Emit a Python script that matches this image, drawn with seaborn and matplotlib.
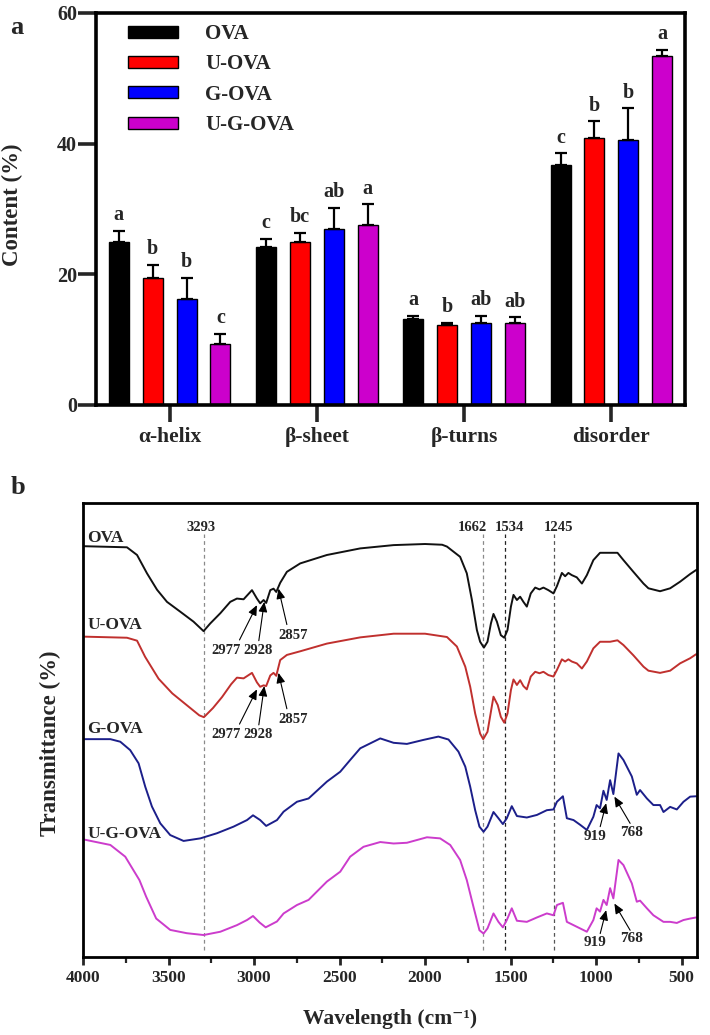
import numpy as np
import pandas as pd
import matplotlib
matplotlib.use("Agg")
import matplotlib.pyplot as plt
from matplotlib.ticker import MultipleLocator
import seaborn as sns

# ---------------- Panel a data ----------------
structures = ["α-helix", "β-sheet", "β-turns", "disorder"]
samples = ["OVA", "U-OVA", "G-OVA", "U-G-OVA"]
ova_mean = [24.9, 24.2, 13.2, 36.8]
uova_mean = [19.5, 25.0, 12.2, 40.9]
gova_mean = [16.3, 26.9, 12.6, 40.6]
ugova_mean = [9.3, 27.5, 12.5, 53.4]
ova_err = [1.8, 1.2, 0.4, 1.7]
uova_err = [2.0, 1.3, 0.4, 2.5]
gova_err = [3.2, 3.2, 1.0, 4.8]
ugova_err = [1.6, 3.2, 0.9, 1.0]
ova_sig = ["a", "c", "a", "c"]
uova_sig = ["b", "bc", "b", "b"]
gova_sig = ["b", "ab", "ab", "b"]
ugova_sig = ["c", "a", "ab", "a"]
bar_colors = ["#000000", "#ff0000", "#0000ff", "#cc00cc"]

# ---------------- Panel b data ----------------
ova_wn = [3996, 3743, 3684, 3626, 3567, 3509, 3431, 3354, 3295, 3256, 3197, 3139, 3100, 3061, 3012, 2983, 2964, 2944,
          2929, 2905, 2886, 2870, 2847, 2808, 2730, 2574, 2379, 2184, 2000, 1900, 1872, 1795, 1756, 1726, 1697, 1678,
          1656, 1635, 1615, 1600, 1580, 1557, 1537, 1518, 1498, 1483, 1463, 1444, 1425, 1405, 1382, 1356, 1331, 1308,
          1279, 1249, 1229, 1200, 1181, 1162, 1142, 1113, 1083, 1054, 1016, 977, 918, 875, 840, 782, 723, 694, 626,
          567, 509, 450, 415]
ova_t = [112.2, 111.9, 109.8, 104.8, 100.3, 97.0, 94.3, 91.6, 89.0, 91.1, 93.9, 97.0, 97.9, 97.7, 100.2, 97.9, 96.6, 97.5,
         96.7, 100.2, 100.6, 99.7, 102.2, 105.2, 107.5, 109.8, 111.6, 112.5, 112.8, 112.6, 112.1, 109.3, 104.8, 97.5,
         89.3, 86.1, 84.5, 86.1, 91.1, 93.7, 91.6, 87.9, 87.2, 89.3, 95.7, 98.9, 97.5, 98.4, 97.0, 95.7, 99.3, 100.9,
         100.4, 100.9, 100.2, 99.3, 101.3, 104.9, 104.0, 104.9, 104.3, 103.7, 102.0, 104.3, 108.4, 110.4, 110.4, 110.4,
         108.4, 105.2, 102.0, 100.7, 99.9, 100.7, 102.5, 104.6, 105.7]

uova_wn = [3996, 3743, 3684, 3637, 3558, 3478, 3399, 3320, 3293, 3240, 3187, 3134, 3100, 3061, 3012, 2983, 2964, 2944,
           2929, 2905, 2886, 2870, 2847, 2808, 2730, 2574, 2379, 2184, 2000, 1872, 1814, 1765, 1736, 1707, 1678, 1660,
           1635, 1600, 1575, 1557, 1537, 1518, 1498, 1483, 1463, 1444, 1425, 1405, 1382, 1356, 1331, 1308, 1279, 1249,
           1229, 1200, 1181, 1162, 1142, 1113, 1083, 1054, 1016, 977, 918, 875, 840, 782, 723, 694, 626, 567, 509, 450,
           415]
uova_t = [87.5, 87.2, 86.4, 82.0, 76.0, 72.0, 69.0, 66.0, 65.5, 68.0, 71.0, 74.5, 76.3, 76.1, 77.6, 75.0, 73.8, 74.2,
          74.0, 76.9, 77.6, 76.8, 81.1, 82.5, 83.5, 85.6, 87.3, 88.3, 88.3, 87.4, 84.8, 79.3, 73.8, 66.5, 61.0, 59.5,
          61.5, 71.1, 68.8, 65.6, 64.0, 66.5, 72.9, 75.8, 74.3, 75.6, 74.0, 73.1, 76.6, 77.9, 77.5, 77.9, 77.0, 76.6,
          78.4, 81.3, 80.7, 81.3, 80.7, 80.2, 78.8, 80.7, 84.3, 86.1, 86.1, 86.5, 85.2, 82.4, 79.3, 78.2, 77.6, 78.2,
          80.2, 81.6, 82.7]

gova_wn = [3996, 3840, 3782, 3724, 3675, 3636, 3597, 3548, 3490, 3412, 3314, 3217, 3120, 3041, 3006, 2964, 2929, 2866,
           2827, 2749, 2681, 2574, 2496, 2438, 2379, 2340, 2262, 2184, 2106, 2009, 1922, 1863, 1805, 1765, 1736, 1707,
           1682, 1658, 1635, 1600, 1571, 1545, 1522, 1493, 1463, 1405, 1346, 1288, 1249, 1229, 1194, 1171, 1132, 1093,
           1054, 1016, 997, 977, 957, 938, 918, 899, 869, 840, 791, 762, 743, 703, 665, 626, 606, 567, 528, 489, 450,
           415]
gova_t = [59.5, 59.5, 58.8, 56.5, 52.9, 46.5, 41.1, 36.5, 33.3, 31.7, 32.4, 33.8, 35.6, 37.4, 38.7, 37.4, 35.8, 37.4,
          39.7, 42.4, 43.3, 47.9, 50.6, 53.8, 57.0, 57.9, 59.7, 58.5, 58.2, 59.3, 60.2, 59.4, 56.1, 52.0, 46.5, 40.1,
          35.6, 34.2, 35.6, 39.6, 37.9, 36.3, 37.9, 41.2, 38.5, 38.1, 38.8, 40.1, 40.3, 42.4, 43.9, 37.9, 37.4, 36.1,
          34.7, 38.3, 41.5, 40.6, 45.4, 42.9, 48.3, 44.5, 55.6, 53.8, 49.3, 44.3, 45.6, 43.3, 41.5, 41.5, 39.6, 41.0,
          40.3, 42.4, 43.8, 43.9]

ugova_wn = [3996, 3840, 3753, 3670, 3631, 3572, 3490, 3393, 3295, 3197, 3100, 3041, 3006, 2967, 2932, 2866, 2827, 2749,
            2681, 2574, 2496, 2438, 2360, 2262, 2184, 2106, 1989, 1912, 1853, 1795, 1756, 1717, 1682, 1658, 1635, 1600,
            1571, 1545, 1522, 1493, 1463, 1405, 1346, 1288, 1249, 1229, 1194, 1171, 1132, 1093, 1054, 1016, 997, 977,
            957, 938, 918, 899, 869, 840, 791, 762, 743, 703, 665, 606, 567, 528, 489, 450, 415]
ugova_t = [32.1, 30.6, 27.4, 21.0, 16.5, 10.5, 7.4, 6.5, 6.0, 6.9, 8.7, 10.1, 11.2, 9.4, 8.1, 9.7, 11.9, 14.2, 15.6,
           20.6, 23.3, 27.4, 30.1, 31.4, 31.0, 31.2, 32.7, 32.4, 30.6, 26.5, 21.0, 13.7, 7.3, 6.4, 7.8, 11.9, 9.6, 8.1,
           10.1, 13.3, 9.9, 9.6, 10.8, 11.9, 11.4, 14.2, 14.8, 9.6, 8.7, 7.8, 6.9, 10.1, 13.3, 12.4, 15.6, 14.2, 18.8,
           16.0, 26.5, 25.1, 20.1, 15.1, 15.4, 13.3, 11.4, 9.6, 9.6, 9.3, 10.1, 10.5, 10.8]

curve_names = ["OVA", "U-OVA", "G-OVA", "U-G-OVA"]
curve_colors = ["#111111", "#c0302e", "#1c1f8a", "#cc3ccc"]
curve_label_y = [114.5, 90.8, 62.3, 33.6]
ref_lines = [3293, 1662, 1534, 1245]
ref_colors = ["#8a8a8a", "#8a8a8a", "#222222", "#555555"]

# ---------------- style ----------------
sns.set_theme(style="ticks")
plt.rcParams["font.family"] = ["Liberation Serif", "DejaVu Serif"]
plt.rcParams["font.weight"] = "bold"
plt.rcParams["axes.labelweight"] = "bold"

fig = plt.figure(figsize=(7.1, 10.35), dpi=100)
W, H = 710, 1035
ax1 = fig.add_axes([96 / W, 1 - 405 / H, 589 / W, 392 / H])
ax2 = fig.add_axes([83 / W, 1 - 957 / H, 614 / W, 454 / H])

# ---------------- Panel a ----------------
means = [ova_mean, uova_mean, gova_mean, ugova_mean]
errs = [ova_err, uova_err, gova_err, ugova_err]
sigs = [ova_sig, uova_sig, gova_sig, ugova_sig]
rows = []
for s, m in zip(samples, means):
    for st, v in zip(structures, m):
        rows.append({"structure": st, "sample": s, "content": v})
df = pd.DataFrame(rows)

sns.barplot(data=df, x="structure", y="content", hue="sample", hue_order=samples,
            order=structures, palette=bar_colors, errorbar=None, width=0.92, gap=0.41,
            edgecolor="black", linewidth=1.0, saturation=1, ax=ax1)

for cont, e, sg in zip(ax1.containers, errs, sigs):
    xs = [b.get_x() + b.get_width() / 2 for b in cont]
    hs = [b.get_height() for b in cont]
    ax1.errorbar(xs, hs, yerr=[[0] * len(e), e], fmt="none", ecolor="black",
                 elinewidth=1.6, capsize=4.5, capthick=1.6, zorder=3)
    for x, h, ee, lab in zip(xs, hs, e, sg):
        ax1.text(x, h + ee + 0.9, lab, ha="center", va="bottom", fontsize=14.5,
                 fontweight="bold")

ax1.set_ylim(0, 60)
ax1.set_xlim(-0.5, 3.5)
ax1.set_yticks([0, 20, 40, 60])
ax1.set_xlabel("")
ax1.set_ylabel("Content (%)", fontsize=16.5, fontweight="bold")
ax1.yaxis.set_label_coords(-0.124, 0.51)
for sp in ax1.spines.values():
    sp.set_visible(True)
    sp.set_linewidth(2.6)
    sp.set_color("black")
ax1.tick_params(axis="y", direction="out", length=13, width=2.6, labelsize=14.5, pad=0.5)
ax1.tick_params(axis="x", direction="out", length=12, width=2.6, labelsize=15.5, pad=4)
for t in ax1.get_xticklabels() + ax1.get_yticklabels():
    t.set_fontweight("bold")

handles, labels = ax1.get_legend_handles_labels()
ax1.legend(handles, labels, loc="upper left", bbox_to_anchor=(0.055, 0.972),
           frameon=False, prop={"weight": "bold", "size": 15}, handlelength=2.4,
           handleheight=0.5, handletextpad=1.3, labelspacing=0.5,
           borderpad=0, borderaxespad=0)

fig.text(17 / W, 1 - 28 / H, "a", fontsize=19, fontweight="bold", ha="center", va="center")

# ---------------- Panel b ----------------
wns = [ova_wn, uova_wn, gova_wn, ugova_wn]
ts = [ova_t, uova_t, gova_t, ugova_t]
for name, wn, t, c in zip(curve_names, wns, ts, curve_colors):
    cdf = pd.DataFrame({"wn": wn, "t": t})
    sns.lineplot(data=cdf, x="wn", y="t", color=c, linewidth=1.4, estimator=None,
                 sort=False, ax=ax2)

for xv, c in zip(ref_lines, ref_colors):
    ax2.plot([xv, xv], [2.0, 115.5], color=c, linewidth=0.9, linestyle=(0, (3, 2.5)), zorder=1)

ax2.text(3310, 117.3, "3293", ha="center", va="center", fontsize=10.5, fontweight="bold")
ax2.text(1723, 117.3, "1662", ha="center", va="center", fontsize=10.5, fontweight="bold")
ax2.text(1506, 117.3, "1534", ha="center", va="center", fontsize=10.5, fontweight="bold")
ax2.text(1220, 117.3, "1245", ha="center", va="center", fontsize=10.5, fontweight="bold")

for name, y in zip(curve_names, curve_label_y):
    ax2.text(3975, y, name, ha="left", va="center", fontsize=12.5, fontweight="bold")

arrow_kw = dict(arrowstyle="-|>,head_length=0.5,head_width=0.22", color="black", lw=0.8,
                shrinkA=0, shrinkB=0)
for dy in [0, -23.0]:
    ax2.text(3164, 83.8 + dy, "2977", ha="center", va="center", fontsize=10.5, fontweight="bold")
    ax2.text(2974, 83.8 + dy, "2928", ha="center", va="center", fontsize=10.5, fontweight="bold")
    ax2.text(2769, 87.9 + dy, "2857", ha="center", va="center", fontsize=10.5, fontweight="bold")
    ax2.annotate("", xy=(2983, 96.1 + dy), xytext=(3085, 86.6 + dy), arrowprops=arrow_kw)
    ax2.annotate("", xy=(2940, 97.0 + dy), xytext=(2972, 86.4 + dy), arrowprops=arrow_kw)
    ax2.annotate("", xy=(2857, 100.6 + dy), xytext=(2808, 90.8 + dy), arrowprops=arrow_kw)

for ty, ay in [(32.9, 0.0), (3.9, -29.2)]:
    ax2.text(1007, ty, "919", ha="center", va="center", fontsize=11, fontweight="bold")
    ax2.text(791, ty + 1.2, "768", ha="center", va="center", fontsize=11, fontweight="bold")
    ax2.annotate("", xy=(941, 42.0 + ay), xytext=(976, 35.6 + ay), arrowprops=arrow_kw)
    ax2.annotate("", xy=(893, 43.8 + ay), xytext=(801, 36.5 + ay), arrowprops=arrow_kw)

ax2.set_xlim(4000, 410)
ax2.set_ylim(0, 124)
ax2.set_xticks([4000, 3500, 3000, 2500, 2000, 1500, 1000, 500])
ax2.xaxis.set_minor_locator(MultipleLocator(250))
ax2.set_yticks([])
ax2.set_xlabel("Wavelength (cm⁻¹)", fontsize=15.5, fontweight="bold")
ax2.set_ylabel("Transmittance (%)", fontsize=16.5, fontweight="bold")
ax2.xaxis.set_label_coords(0.5, -0.115)
ax2.yaxis.set_label_coords(-0.036, 0.47)
for sp in ax2.spines.values():
    sp.set_visible(True)
    sp.set_linewidth(2.0)
    sp.set_color("black")
ax2.tick_params(axis="x", which="major", direction="out", length=6, width=2.0, labelsize=12.5, pad=3)
ax2.tick_params(axis="x", which="minor", direction="out", length=4, width=1.6)
for t in ax2.get_xticklabels():
    t.set_fontweight("bold")

fig.text(18 / W, 1 - 487 / H, "b", fontsize=19, fontweight="bold", ha="center", va="center")

fig.savefig("out.png", dpi=100, facecolor="white")
